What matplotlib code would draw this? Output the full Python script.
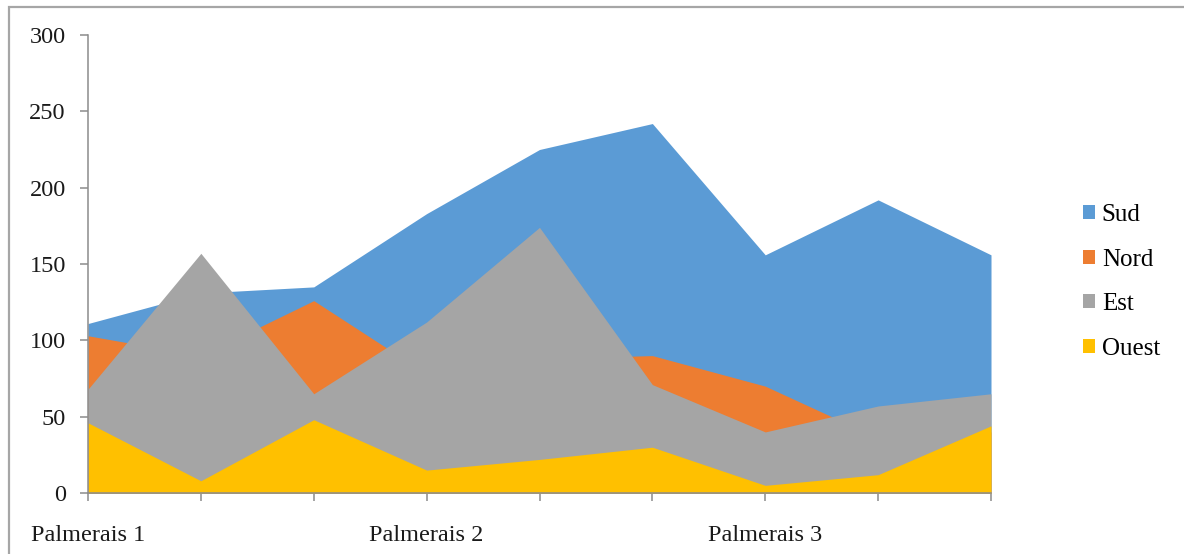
import matplotlib
matplotlib.use("Agg")
import matplotlib.pyplot as plt
from matplotlib.patches import Patch, Rectangle

plt.rcParams["font.family"] = ["Liberation Serif", "DejaVu Serif"]

# Category tick labels (only every third category is labelled)
categories = ["Palmerais 1", "", "", "Palmerais 2", "", "", "Palmerais 3", "", ""]

# Series values, drawn back to front
sud = [111, 131, 135, 183, 225, 242, 156, 192, 156]
nord = [103, 90, 126, 78, 88, 90, 70, 36, 40]
est = [68, 157, 65, 112, 174, 71, 40, 57, 65]
ouest = [46, 8, 48, 15, 22, 30, 5, 12, 44]

series_names = ["Sud", "Nord", "Est", "Ouest"]
series_values = [sud, nord, est, ouest]
colors = ["#5B9BD5", "#ED7D31", "#A5A5A5", "#FFC000"]

W, H = 1184, 554
fig = plt.figure(figsize=(W / 100, H / 100), dpi=100)
ax = fig.add_axes([88 / W, 1 - 493 / H, (991 - 88) / W, (493 - 35) / H])

x = list(range(len(categories)))
for z, (name, vals, col) in enumerate(zip(series_names, series_values, colors)):
    ax.fill_between(x, 0, vals, color=col, linewidth=0, zorder=2 + z)

ax.set_xlim(0, len(categories) - 1)
ax.set_ylim(0, 300)
ax.set_yticks(range(0, 301, 50))
ax.set_xticks(x)
ax.set_xticklabels(categories)

for side in ("top", "right"):
    ax.spines[side].set_visible(False)
for side in ("left", "bottom"):
    ax.spines[side].set_color("#8c8c8c")
    ax.spines[side].set_linewidth(1.1)
    ax.spines[side].set_zorder(10)

ax.tick_params(axis="both", colors="#8c8c8c", labelcolor="#1a1a1a",
               labelsize=17.5, length=6, width=1.1, direction="out")
ax.tick_params(axis="y", pad=10)
ax.tick_params(axis="x", pad=17)

handles = [Patch(facecolor=c, edgecolor="none") for c in colors]
fig.legend(handles, series_names, loc="center left",
           bbox_to_anchor=(1083 / W, 1 - 282 / H), frameon=False,
           fontsize=18, handlelength=0.48, handleheight=0.48,
           handletextpad=0.27, labelspacing=0.9, borderpad=0,
           borderaxespad=0)

# Chart-area border (runs off the right and bottom edges)
fig.patches.append(Rectangle((9 / W, -0.1), 1.2, 1.1 - 7 / H,
                             transform=fig.transFigure, fill=False,
                             edgecolor="#a6a6a6", linewidth=1.6))

fig.savefig("out.png", dpi=100, facecolor="white")
